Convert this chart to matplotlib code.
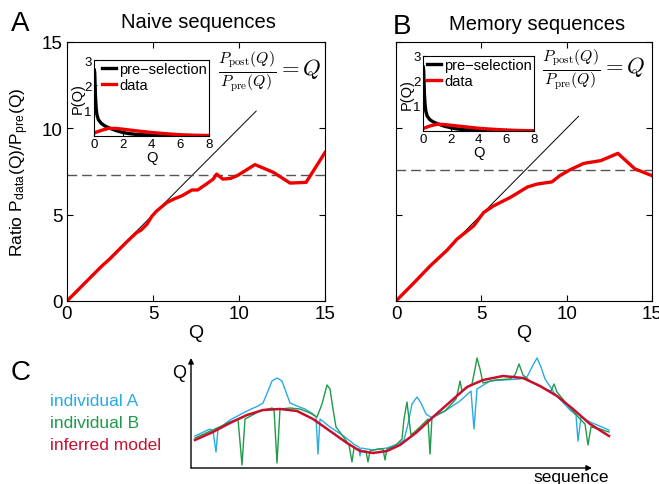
import numpy as np
import matplotlib.pyplot as plt

plt.rcParams['font.family'] = ['Liberation Sans', 'DejaVu Sans']
plt.rcParams['mathtext.fontset'] = 'cm'

# ---- panel A / B main curves (ratio P_data/P_pre vs Q)
qa = [0, 0.5, 1, 1.5, 2, 2.5, 3, 3.5, 4.06, 4.3, 4.65, 4.93, 5.2, 5.8, 6.2, 6.7, 7.26,
      7.6, 8.1, 8.5, 8.7, 9.06, 9.5, 9.9, 10.93, 12.0, 12.97, 13.9, 15]
ra = [0, 0.5, 1.0, 1.5, 2.0, 2.45, 2.95, 3.45, 3.97, 4.1, 4.45, 4.9, 5.2, 5.7, 5.9, 6.1,
      6.43, 6.43, 6.77, 7.06, 7.35, 7.06, 7.1, 7.26, 7.9, 7.45, 6.83, 6.87, 8.6]
qb = [0, 1, 2.0, 3.0, 3.57, 4.55, 5.14, 5.7, 6.7, 7.7, 8.26, 9.14, 9.6, 10.2, 11.0,
      12.0, 13.0, 14.0, 15]
rb = [0, 1.0, 2.03, 2.95, 3.58, 4.35, 5.13, 5.5, 6.0, 6.6, 6.77, 6.9, 7.26, 7.6, 7.97,
      8.13, 8.55, 7.65, 7.26]
plateau_a, plateau_b = 7.27, 7.56
diag_a, diag_b = 11.0, 10.7

# ---- insets: P(Q)
pre_q = [0.02, 0.05, 0.1, 0.15, 0.2, 0.3, 0.5, 0.75, 1.0, 1.5, 2.0, 2.5, 3.0, 4.0, 5.0, 6.0, 8.0]
pre_a = [2.6, 2.5, 1.6, 1.1, 0.85, 0.65, 0.5, 0.4, 0.33, 0.22, 0.14, 0.09, 0.06, 0.03, 0.015, 0.008, 0.003]
pre_b = [2.55, 2.4, 1.5, 1.05, 0.8, 0.6, 0.45, 0.36, 0.3, 0.2, 0.13, 0.08, 0.05, 0.025, 0.012, 0.006, 0.002]
dat_q = [0, 0.5, 1.0, 1.5, 2.0, 3.0, 4.0, 5.0, 6.0, 7.0, 8.0]
dat_a = [0.12, 0.22, 0.3, 0.3, 0.27, 0.2, 0.14, 0.09, 0.05, 0.03, 0.02]
dat_b = [0.1, 0.2, 0.27, 0.26, 0.23, 0.17, 0.11, 0.07, 0.04, 0.02, 0.01]

# ---- panel C schematic (arbitrary units)
model_x = [4, 22, 39, 56, 72, 89, 106, 122, 139, 156, 169, 182, 196, 209, 226, 242, 259,
           276, 292, 312, 332, 349, 366, 382, 399, 418]
model_q = [28, 36, 45, 53, 58, 59, 57, 49, 37, 25, 17, 15, 17, 23, 36, 51, 66, 81, 88, 92,
           90, 82, 72, 59, 44, 32]
indA_x = [4, 19, 22, 25, 27, 39, 56, 67, 72, 77, 81, 86, 91, 95, 99, 106, 114, 122, 125, 127,
          129, 139, 154, 164, 168, 169, 170, 182, 196, 209, 213, 217, 221, 226, 230, 235, 241,
          254, 269, 280, 283, 286, 299, 312, 329, 336, 341, 346, 350, 354, 364, 379, 385, 387,
          390, 399, 418]
indA_q = [32, 39, 37, 16, 39, 48, 57, 62, 65, 77, 87, 90, 87, 76, 65, 62, 59, 54, 51, 14,
          49, 41, 31, 23, 21, 12, 20, 18, 20, 25, 28, 44, 64, 71, 65, 54, 50,
          57, 67, 77, 39, 79, 87, 88, 89, 91, 101, 110, 101, 89, 74, 58, 53, 27,
          51, 46, 38]
indB_x = [4, 24, 39, 47, 51, 54, 69, 81, 83, 86, 89, 99, 109, 119, 126, 131, 136, 139, 142,
          145, 154, 158, 161, 163, 171, 175, 177, 179, 187, 192, 194, 196, 204, 211, 213, 216,
          218, 220, 229, 237, 239, 241, 254, 265, 267, 269, 271, 277, 281, 284, 286, 289, 292,
          304, 319, 324, 328, 332, 339, 354, 360, 363, 366, 379, 389, 394, 397, 400, 409, 418]
indB_q = [30, 39, 46, 49, 3, 49, 57, 60, 59, 5, 59, 60, 59, 55, 51, 64, 83, 79, 59,
          41, 29, 23, 6, 20, 17, 17, 6, 17, 19, 19, 8, 19, 22, 29, 49, 66,
          49, 33, 41, 49, 14, 51, 57, 69, 77, 87, 77, 81, 84, 99, 110, 99, 85,
          88, 89, 93, 104, 93, 87, 79, 77, 84, 76, 60, 49, 44, 23, 41, 39, 36]

fig = plt.figure(figsize=(6.59, 4.85), dpi=100)
W, H = 659.0, 485.0


def rect(l, t, r, b):
    return [l / W, 1 - b / H, (r - l) / W, (b - t) / H]


def main_panel(box, q, ratio, plateau, diag, ylabels):
    ax = fig.add_axes(box)
    ax.plot([0, diag], [0, diag], color='k', lw=0.7)
    ax.axhline(plateau, color='#555555', lw=1.0, dashes=(7, 3.5))
    ax.plot(q, ratio, color='#ee0000', lw=2.4)
    ax.set_xlim(0, 15)
    ax.set_ylim(0, 15)
    ax.set_xticks([0, 5, 10, 15])
    ax.set_yticks([0, 5, 10, 15])
    ax.tick_params(direction='in', top=True, right=True, length=4, labelsize=13.5, pad=3)
    if not ylabels:
        ax.set_yticklabels([])
    ax.set_xlabel('Q', fontsize=14, labelpad=1)
    return ax


def inset(box, pre, dat):
    ax = fig.add_axes(box)
    ax.plot(pre_q, pre, color='k', lw=2.4, label='pre\u2212selection')
    ax.plot(dat_q, dat, color='#ee0000', lw=2.4, label='data')
    ax.set_xlim(0, 8)
    ax.set_ylim(0, 3)
    ax.set_xticks([0, 2, 4, 6, 8])
    ax.set_yticks([1, 2, 3])
    ax.tick_params(direction='in', length=2.5, labelsize=9.5, pad=1.5)
    ax.set_xlabel('Q', fontsize=10.5, labelpad=0)
    ax.set_ylabel('P(Q)', fontsize=10.5, labelpad=0)
    ax.legend(loc='upper right', frameon=False, fontsize=10.5, handlelength=1.0,
              handletextpad=0.2, borderpad=0.1, borderaxespad=0.05, labelspacing=0.1)
    return ax


axA = main_panel(rect(67, 43, 325, 302), qa, ra, plateau_a, diag_a, True)
axA.set_ylabel('Ratio P$_\\mathregular{data}$(Q)/P$_\\mathregular{pre}$(Q)', fontsize=12.5, labelpad=8)
axB = main_panel(rect(396, 43, 652, 302), qb, rb, plateau_b, diag_b, False)

inset(rect(94, 61, 209, 137), pre_a, dat_a)
inset(rect(423, 57, 534, 132), pre_b, dat_b)

eq = r'$\frac{P_{\rm post}(Q)}{P_{\rm pre}(Q)} = Q$'
fig.text(270 / W, 1 - 72 / H, eq, fontsize=16.3, ha='center', va='center')
fig.text(594 / W, 1 - 70 / H, eq, fontsize=16.3, ha='center', va='center')

fig.text(198 / W, 1 - 22 / H, 'Naive sequences', fontsize=14.5, ha='center', va='center')
fig.text(537 / W, 1 - 24 / H, 'Memory sequences', fontsize=14.5, ha='center', va='center')
fig.text(11 / W, 1 - 24 / H, 'A', fontsize=20, ha='left', va='center')
fig.text(393 / W, 1 - 27 / H, 'B', fontsize=20, ha='left', va='center')
fig.text(11 / W, 1 - 373 / H, 'C', fontsize=20, ha='left', va='center')

# ---- panel C
axC = fig.add_axes(rect(191, 359, 612, 469))
axC.plot(indA_x, indA_q, color='#29abe2', lw=1.0, clip_on=False)
axC.plot(indB_x, indB_q, color='#1e9a48', lw=1.0, clip_on=False)
axC.plot(model_x, model_q, color='#c8102e', lw=1.8, clip_on=False)
axC.set_xlim(0, 421)
axC.set_ylim(0, 110)
axC.axis('off')
arrow = dict(arrowstyle='-|>', lw=1.0, color='k', mutation_scale=8, shrinkA=0, shrinkB=0)
axC.annotate('', xy=(401, 0), xytext=(0, 0), arrowprops=arrow, annotation_clip=False)
axC.annotate('', xy=(0, 110), xytext=(0, 0), arrowprops=arrow, annotation_clip=False)
fig.text(179 / W, 1 - 373 / H, 'Q', fontsize=13, ha='center', va='center')
fig.text(571 / W, 1 - 478 / H, 'sequence', fontsize=12.5, ha='center', va='center')
fig.text(50 / W, 1 - 402 / H, 'individual A', fontsize=12.5, color='#29abe2', va='center')
fig.text(50 / W, 1 - 424 / H, 'individual B', fontsize=12.5, color='#1e9a48', va='center')
fig.text(50 / W, 1 - 446 / H, 'inferred model', fontsize=12.5, color='#c8102e', va='center')

fig.savefig('out.png', dpi=100)
